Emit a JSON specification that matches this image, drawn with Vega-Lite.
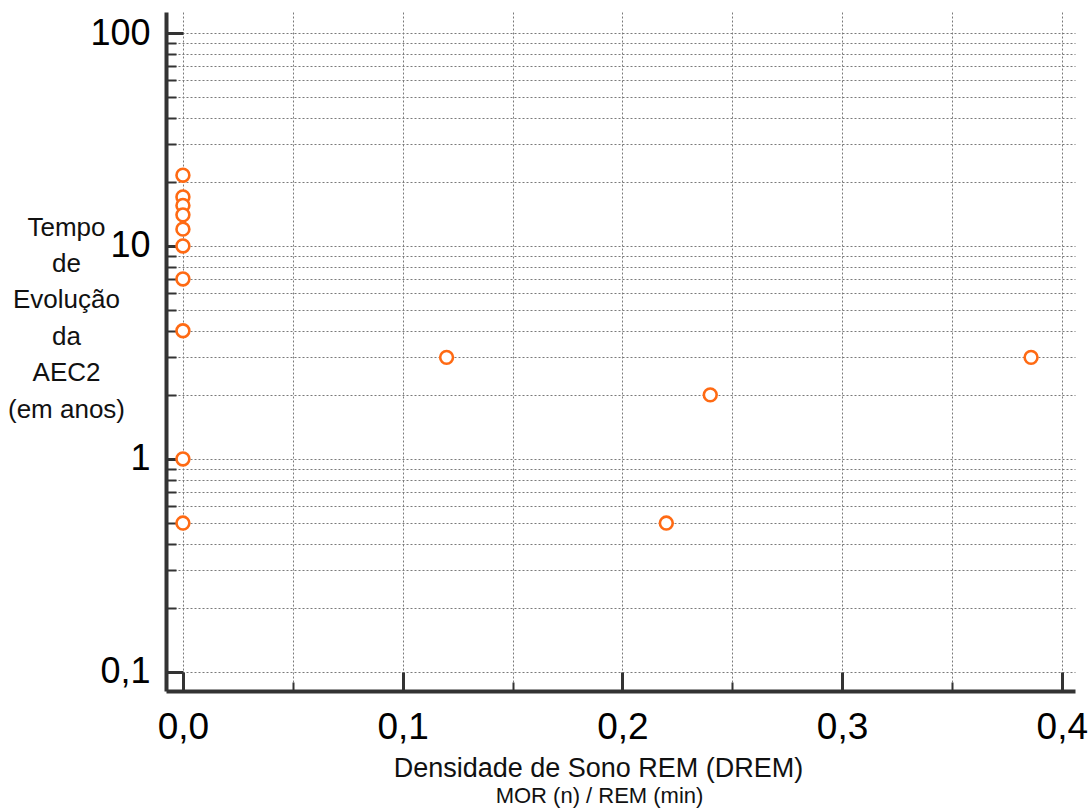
{
  "$schema": "https://vega.github.io/schema/vega-lite/v6.json",
  "width": 909,
  "height": 679,
  "autosize": "none",
  "padding": {"left": 166, "top": 12, "right": 16, "bottom": 120},
  "background": "white",
  "title": {
    "text": "MOR (n) / REM (min)",
    "orient": "bottom",
    "anchor": "middle",
    "fontSize": 22,
    "fontWeight": "normal",
    "font": "Liberation Sans",
    "color": "#111",
    "dx": -21,
    "offset": 5
  },
  "config": {
    "view": {"stroke": null},
    "font": "Liberation Sans"
  },
  "data": {
    "values": [
      {"drem": 0.0, "tempo": 21.5},
      {"drem": 0.0, "tempo": 17},
      {"drem": 0.0, "tempo": 15.5},
      {"drem": 0.0, "tempo": 14},
      {"drem": 0.0, "tempo": 12},
      {"drem": 0.0, "tempo": 10},
      {"drem": 0.0, "tempo": 7},
      {"drem": 0.0, "tempo": 4},
      {"drem": 0.0, "tempo": 1},
      {"drem": 0.0, "tempo": 0.5},
      {"drem": 0.12, "tempo": 3},
      {"drem": 0.24, "tempo": 2},
      {"drem": 0.22, "tempo": 0.5},
      {"drem": 0.386, "tempo": 3}
    ]
  },
  "mark": {"type": "point", "shape": "circle", "filled": false, "fill": "white", "fillOpacity": 1, "stroke": "#ff6a13", "strokeWidth": 2.6, "size": 165, "opacity": 1},
  "encoding": {
    "x": {
      "field": "drem",
      "type": "quantitative",
      "scale": {"domain": [-0.0077, 0.406], "nice": false, "zero": false},
      "axis": {
        "values": [0, 0.05, 0.1, 0.15, 0.2, 0.25, 0.3, 0.35, 0.4],
        "labelExpr": "abs(datum.value*10 - round(datum.value*10)) < 0.001 ? replace(format(datum.value, '.1f'), '.', ',') : ''",
        "labelFontSize": 37,
        "labelColor": "#000",
        "labelPadding": 37,
        "labelFlush": false,
        "labelOverlap": false,
        "tickSize": {"condition": {"test": "abs(datum.value*10 - round(datum.value*10)) < 0.001", "value": -19}, "value": -9},
        "tickWidth": {"condition": {"test": "abs(datum.value*10 - round(datum.value*10)) < 0.001", "value": 3}, "value": 2},
        "tickColor": "#333",
        "domainColor": "#333",
        "domainWidth": 4,
        "grid": true,
        "gridColor": "#7a7a7a",
        "gridDash": [2, 2],
        "gridWidth": 1,
        "title": "Densidade de Sono REM (DREM)",
        "titleFontSize": 27,
        "titleFontWeight": "normal",
        "titleColor": "#111",
        "titleAlign": "center",
        "titleBaseline": "alphabetic",
        "titleX": 432,
        "titleY": 85
      }
    },
    "y": {
      "field": "tempo",
      "type": "quantitative",
      "scale": {"type": "log", "domain": [0.0814, 125.5], "nice": false, "zero": false},
      "axis": {
        "values": [0.1, 0.2, 0.3, 0.4, 0.5, 0.6, 0.7, 0.8, 0.9, 1, 2, 3, 4, 5, 6, 7, 8, 9, 10, 20, 30, 40, 50, 60, 70, 80, 90, 100],
        "labelExpr": "datum.value == 0.1 ? '0,1' : (datum.value == 1 || datum.value == 10 || datum.value == 100) ? format(datum.value, 'd') : ''",
        "labelFontSize": 36,
        "labelColor": "#000",
        "labelPadding": 33,
        "labelFlush": false,
        "labelOverlap": false,
        "labelBaseline": "middle",
        "tickSize": {"condition": {"test": "datum.value == 0.1 || datum.value == 1 || datum.value == 10 || datum.value == 100", "value": -17}, "value": -10},
        "tickWidth": {"condition": {"test": "datum.value == 0.1 || datum.value == 1 || datum.value == 10 || datum.value == 100", "value": 3}, "value": 2},
        "tickColor": "#333",
        "domainColor": "#333",
        "domainWidth": 4,
        "grid": true,
        "gridColor": "#7a7a7a",
        "gridDash": [2, 2],
        "gridWidth": 1,
        "title": ["Tempo", "de", "Evolução", "da", "AEC2", "(em anos)"],
        "titleFontSize": 26,
        "titleFontWeight": "normal",
        "titleColor": "#111",
        "titleAngle": 0,
        "titleAlign": "center",
        "titleBaseline": "alphabetic",
        "titleLineHeight": 36.4,
        "titleX": -100,
        "titleY": 223
      }
    }
  }
}
